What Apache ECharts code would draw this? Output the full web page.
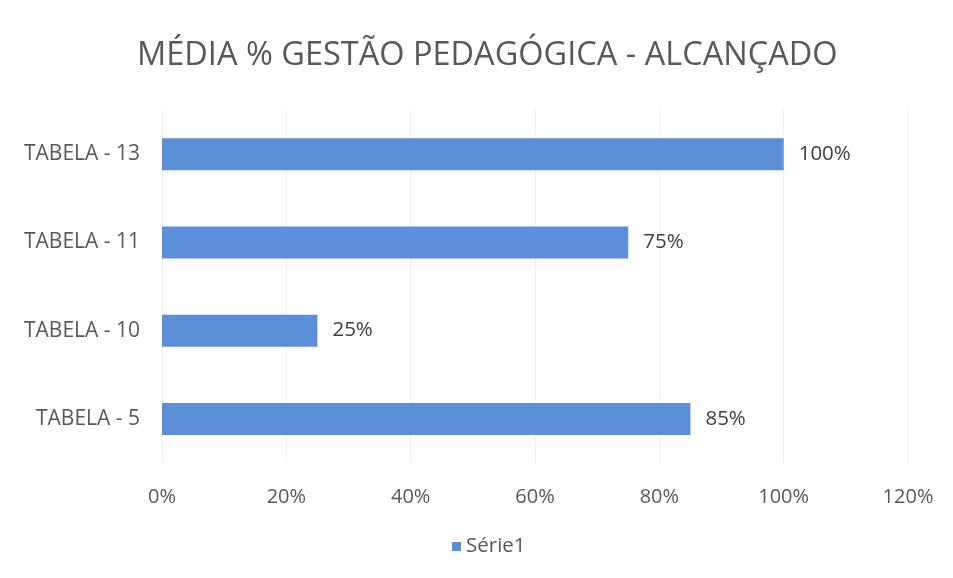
<!DOCTYPE html>
<html><head><meta charset="utf-8">
<script src="https://cdn.jsdelivr.net/npm/echarts@6/dist/echarts.min.js"></script>
<style>html,body{margin:0;padding:0;background:#fff}#c{width:953px;height:578px}</style>
</head><body><div id="c"></div>
<script>
const categories = ['TABELA - 5', 'TABELA - 10', 'TABELA - 11', 'TABELA - 13'];
const values = [85, 25, 75, 100];
const seriesName = 'Série1';
const titleText = 'MÉDIA % GESTÃO PEDAGÓGICA - ALCANÇADO';
const font = 'Open Sans';
const chart = echarts.init(document.getElementById('c'));
chart.setOption({
  backgroundColor: '#fff',
  animation: false,
  title: { text: titleText, left: 132, top: 34, textStyle: { fontFamily: font, fontSize: 32.5, fontWeight: 'normal', color: '#595959' } },
  legend: { bottom: 16, left: 447, itemWidth: 9, itemHeight: 9, icon: 'rect', itemGap: 10, textStyle: { fontFamily: font, fontSize: 20.5, color: '#595959' }, data: [seriesName] },
  grid: { left: 162, right: 45, top: 110, bottom: 115, containLabel: false },
  xAxis: { type: 'value', min: 0, max: 120, interval: 20,
    axisLabel: { formatter: '{value}%', fontFamily: font, fontSize: 20, color: '#595959', margin: 24 },
    axisLine: { show: false }, axisTick: { show: false },
    splitLine: { show: true, lineStyle: { color: '#f0f0f0', width: 1 } } },
  yAxis: { type: 'category', data: categories,
    axisLabel: { fontFamily: font, fontSize: 21, color: '#595959', margin: 22 },
    axisLine: { show: false }, axisTick: { show: false } },
  series: [{ name: seriesName, type: 'bar', data: values, barWidth: 32,
    itemStyle: { color: '#5b8fd8' },
    label: { show: true, position: 'right', distance: 15, formatter: '{c}%', fontFamily: font, fontSize: 20.5, color: '#404040' } }]
});
</script></body></html>
